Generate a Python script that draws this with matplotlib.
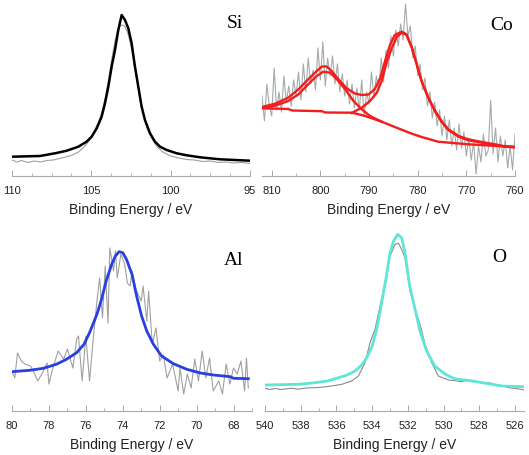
import matplotlib
matplotlib.use("Agg")
import matplotlib.pyplot as plt
from matplotlib.ticker import MultipleLocator

plt.rcParams['font.family'] = ['Liberation Sans', 'DejaVu Sans']

# ---------------- Si 2p ----------------
si_fit_E = [110.0, 108.24, 107.29, 106.55, 105.82, 105.30, 104.98, 104.66, 104.35, 104.14,
            103.93, 103.72, 103.51, 103.30, 103.09, 102.88, 102.67, 102.46, 102.25, 102.04,
            101.83, 101.62, 101.30, 100.99, 100.67, 100.25, 99.62, 98.99, 98.15, 96.89, 95.0]
si_fit_I = [19.3, 20.0, 22.7, 25.3, 29.3, 34.3, 39.3, 47.7, 59.3, 72.7,
            89.3, 109.3, 126.0, 146.0, 161.0, 156.0, 147.7, 132.7, 109.3, 89.3,
            69.3, 56.0, 42.7, 34.3, 29.3, 26.0, 22.7, 20.7, 18.7, 16.7, 15.3]
si_raw_E = [110.0, 109.7, 109.4, 109.0, 108.6, 108.2, 107.8, 107.4, 107.0, 106.6, 106.2, 105.8,
            105.4, 105.1, 104.8, 104.5, 104.3, 104.1, 103.9, 103.7, 103.5, 103.3, 103.1, 102.9,
            102.7, 102.5, 102.3, 102.1, 101.9, 101.7, 101.5, 101.2, 100.9, 100.5, 100.0, 99.5,
            99.0, 98.5, 98.0, 97.5, 97.0, 96.5, 96.0, 95.5, 95.0]
si_raw_I = [16, 14, 15.5, 13.5, 15, 14, 15.5, 16, 17.5, 19, 21, 24,
            30, 36, 45, 56, 66, 80, 98, 118, 136, 148, 151, 150,
            143, 130, 112, 93, 74, 60, 48, 38, 30, 24, 20, 18,
            16.5, 16, 14.5, 15, 13.5, 14, 13, 13.5, 12.5]

# ---------------- Co 2p ----------------
co_tot_E = [812.05, 809.3, 806.6, 804.5, 802.5, 800.75, 799.7, 798.7, 797.7, 796.3, 794.6, 792.9,
            791.5, 790.1, 788.8, 787.7, 786.7, 785.7, 784.7, 783.3, 782.3, 781.2, 780.2, 779.2,
            777.8, 776.4, 775.1, 773.7, 771.6, 769.6, 766.8, 764.1, 762.1, 760.3]
co_tot_I = [69, 72.3, 78.3, 86.7, 96.7, 105, 109.5, 109.5, 105, 96.7, 87.7, 82.5,
            81, 81.5, 87, 98, 115, 131, 141, 144.3, 141.7, 128.3, 111.7, 95,
            78.3, 65, 55, 46.7, 40, 36.7, 34, 31.7, 29.7, 29.3]
co_bg_E = [812.05, 806.6, 805.8, 799.7, 799.0, 793.6, 792.6, 790.8, 787.4, 784.7, 781.2, 779.2,
           775.8, 769.6, 762.7, 760.3]
co_bg_I = [67.7, 67.0, 65.5, 64.8, 63.5, 63.3, 62.3, 60, 54.3, 49, 42.3, 39,
           34.3, 31.7, 29.7, 28.7]
co_p1_E = [812.05, 809.3, 806.6, 804.5, 802.5, 800.75, 799.4, 798.0, 796.6, 794.9, 793.2, 791.5, 789.8, 787.4]
co_p1_I = [68.3, 70.3, 75, 81.7, 91.7, 100, 104.3, 103.3, 96.7, 86.7, 75, 66.7, 60, 54.3]
co_p2_E = [793.6, 791.5, 789.8, 788.4, 787.4, 786.4, 785.3, 784.3, 783.3, 782.3, 781.2, 780.2,
           779.2, 777.8, 776.4, 775.1, 773.7, 771.6, 769.6, 766.8, 764.1, 762.1, 760.3]
co_p2_I = [63, 68.3, 75, 83.3, 95, 113.3, 128.3, 139, 143.3, 141, 128.3, 111.7,
           95, 77.7, 64.3, 54.3, 46, 39.3, 35.7, 33.3, 31, 29.3, 29]
co_raw_E = [812.0, 811.5, 811.0, 810.5, 810.0, 809.5, 809.0, 808.5, 808.0, 807.5, 807.0, 806.5,
            806.0, 805.5, 805.0, 804.5, 804.0, 803.5, 803.0, 802.5, 802.0, 801.5, 801.0, 800.5,
            800.0, 799.5, 799.0, 798.5, 798.0, 797.5, 797.0, 796.5, 796.0, 795.5, 795.0, 794.5,
            794.0, 793.5, 793.0, 792.5, 792.0, 791.5, 791.0, 790.5, 790.0, 789.5, 789.0, 788.5,
            788.0, 787.5, 787.0, 786.5, 786.0, 785.5, 785.0, 784.5, 784.0, 783.5, 783.0, 782.5,
            782.0, 781.5, 781.0, 780.5, 780.0, 779.5, 779.0, 778.5, 778.0, 777.5, 777.0, 776.5,
            776.0, 775.5, 775.0, 774.5, 774.0, 773.5, 773.0, 772.5, 772.0, 771.5, 771.0, 770.5,
            770.0, 769.5, 769.0, 768.5, 768.0, 767.5, 767.0, 766.5, 766.0, 765.5, 765.0, 764.5,
            764.0, 763.5, 763.0, 762.5, 762.0, 761.5, 761.0, 760.5, 760.0]
co_raw_I = [80, 55, 92, 70, 60, 108, 66, 84, 64, 100, 74, 90,
            70, 96, 80, 104, 76, 112, 84, 118, 92, 106, 86, 128,
            96, 134, 90, 118, 100, 120, 92, 112, 84, 102, 80, 96,
            72, 92, 68, 88, 66, 96, 60, 84, 72, 104, 78, 100,
            86, 118, 94, 126, 108, 140, 120, 146, 130, 152, 136, 172,
            140, 150, 118, 130, 100, 112, 86, 98, 70, 84, 58, 74,
            50, 66, 40, 60, 36, 56, 30, 48, 26, 52, 28, 44,
            20, 38, 16, 34, 2, 30, 14, 42, 20, 26, 76, 22,
            48, 14, 40, 20, 36, 8, 30, 6, 42]

# ---------------- Al 2p ----------------
al_fit_E = [80.0, 79.04, 78.3, 77.6, 77.05, 76.5, 76.1, 75.8, 75.4, 75.15, 74.9, 74.6, 74.4,
            74.2, 74.0, 73.8, 73.5, 73.25, 72.98, 72.7, 72.34, 71.9, 71.26, 70.53, 69.8,
            69.09, 68.18, 68.0, 67.2]
al_fit_I = [39.3, 40.7, 42.7, 46.7, 51.7, 58.3, 66.7, 78.3, 96.7, 111.7, 130, 146.7, 155,
            159.3, 158.3, 151.7, 136.7, 115, 95, 80, 66.7, 55, 47.3, 41.7, 38,
            36, 34.3, 32.7, 32.3]
al_raw_E = [80.0, 79.85, 79.7, 79.5, 79.3, 79.0, 78.8, 78.6, 78.3, 78.1, 78.0, 77.8, 77.5, 77.2,
            77.0, 76.7, 76.5, 76.4, 76.2, 76.0, 75.8, 75.6, 75.4, 75.25, 75.1, 74.95, 74.8,
            74.7, 74.5, 74.4, 74.3, 74.1, 73.9, 73.75, 73.6, 73.5, 73.3, 73.0, 72.9, 72.7,
            72.6, 72.4, 72.2, 72.0, 71.8, 71.6, 71.3, 71.0, 70.9, 70.7, 70.5, 70.3, 70.1,
            69.9, 69.7, 69.5, 69.3, 69.1, 68.8, 68.6, 68.4, 68.2, 68.0, 67.8, 67.6, 67.4,
            67.3, 67.2]
al_raw_I = [40, 33, 58, 50, 47, 45, 38, 30, 40, 48, 27, 42, 60, 52,
            62, 43, 72, 75, 30, 75, 30, 72, 110, 133, 93, 145, 88,
            163, 140, 160, 133, 157, 147, 128, 125, 140, 122, 110, 125, 90,
            120, 67, 83, 50, 56, 33, 47, 20, 43, 17, 37, 23, 52,
            30, 60, 33, 53, 20, 30, 17, 47, 27, 43, 37, 50, 20,
            53, 23]

# ---------------- O 1s ----------------
o_fit_E = [540.0, 538.1, 537.2, 536.5, 535.99, 535.4, 534.96, 534.6, 534.3, 534.0, 533.75,
           533.5, 533.2, 533.0, 532.8, 532.57, 532.35, 532.16, 531.9, 531.6, 531.3, 530.95,
           530.5, 529.9, 529.4, 528.4, 527.5, 526.75, 525.5]
o_fit_I = [26, 26.7, 28.3, 30, 32.7, 36, 40, 45.7, 53.3, 65, 81.7,
           105, 135, 158.3, 170, 176.7, 173.3, 158.3, 125, 101.7, 78.3, 60,
           45, 36.7, 32.3, 30, 27.3, 25, 24.3]
o_raw_E = [540.0, 539.7, 539.44, 539.1, 538.88, 538.5, 538.13, 537.7, 537.2, 536.8, 536.27,
           535.7, 535.15, 534.77, 534.4, 534.12, 533.84, 533.56, 533.28, 533.0, 532.72,
           532.53, 532.35, 532.16, 531.88, 531.6, 531.32, 531.04, 530.67, 530.29, 529.73,
           529.3, 528.99, 528.7, 528.43, 528.0, 527.68, 527.4, 527.12, 526.7, 526.37,
           526.0, 525.7, 525.48]
o_raw_I = [22.7, 21.5, 22.5, 21.5, 22, 22.8, 21.8, 23, 23.3, 23.8, 25,
           26.7, 30, 35, 48.3, 68.3, 81.7, 105, 128, 155, 166.7,
           167.7, 161.7, 153, 120, 101.7, 86.7, 66.7, 48.3, 35, 31,
           30.2, 29.3, 30.8, 29.5, 28.6, 27.7, 28.2, 26.5, 25.2, 23.3,
           22.6, 21.8, 21]

W, H = 529, 455
fig = plt.figure(figsize=(W / 100, H / 100), dpi=100)


def make_ax(left, right, top, bottom, xlim, ylim, major, minor):
    ax = fig.add_axes([left / W, 1 - bottom / H, (right - left) / W, (bottom - top) / H])
    ax.set_xlim(*xlim)
    ax.set_ylim(*ylim)
    for s in ('left', 'right', 'top'):
        ax.spines[s].set_visible(False)
    ax.spines['bottom'].set_color('#a9a9a9')
    ax.spines['bottom'].set_linewidth(0.8)
    ax.set_yticks([])
    ax.xaxis.set_major_locator(MultipleLocator(major))
    ax.xaxis.set_minor_locator(MultipleLocator(minor))
    ax.tick_params(axis='x', which='major', direction='in', length=4, width=0.7,
                   color='#a9a9a9', labelsize=8, labelcolor='#222222', pad=7.5)
    ax.tick_params(axis='x', which='minor', direction='in', length=2, width=0.6,
                   color='#a9a9a9')
    ax.set_xlabel('Binding Energy / eV', fontsize=10, color='#222222', labelpad=5)
    ax.patch.set_alpha(0)
    return ax


ax1 = make_ax(12, 250, 2, 176, (110, 95), (0, 174), 5, 1.25)
ax1.plot(si_raw_E, si_raw_I, color='#a0a0a0', lw=0.8)
ax1.plot(si_fit_E, si_fit_I, color='#000000', lw=1.8)
ax1.text(0.937, 0.875, 'Si', transform=ax1.transAxes, fontsize=14,
         family='Liberation Serif', ha='center', va='center')

ax2 = make_ax(262, 515, 2, 176, (812, 760), (0, 174), 10, 5)
ax2.plot(co_raw_E, co_raw_I, color='#a4abab', lw=0.8)
for xe, yi in ((co_bg_E, co_bg_I), (co_p1_E, co_p1_I), (co_p2_E, co_p2_I), (co_tot_E, co_tot_I)):
    ax2.plot(xe, yi, color='#f41c1c', lw=1.7)
ax2.text(0.948, 0.865, 'Co', transform=ax2.transAxes, fontsize=14,
         family='Liberation Serif', ha='center', va='center')

ax3 = make_ax(12, 252, 230, 411, (80, 67), (0, 181), 2, 1)
ax3.plot(al_raw_E, al_raw_I, color='#a0a0a0', lw=0.8)
ax3.plot(al_fit_E, al_fit_I, color='#2a3fe0', lw=2.0)
ax3.text(0.925, 0.83, 'Al', transform=ax3.transAxes, fontsize=14,
         family='Liberation Serif', ha='center', va='center')

ax4 = make_ax(265, 524, 230, 411, (540, 525.5), (0, 181), 2, 1)
ax4.plot(o_raw_E, o_raw_I, color='#8a8a8a', lw=0.8)
ax4.plot(o_fit_E, o_fit_I, color='#5ee6d6', lw=2.0)
ax4.text(0.905, 0.85, 'O', transform=ax4.transAxes, fontsize=14,
         family='Liberation Serif', ha='center', va='center')

fig.savefig('out.png', dpi=100)
